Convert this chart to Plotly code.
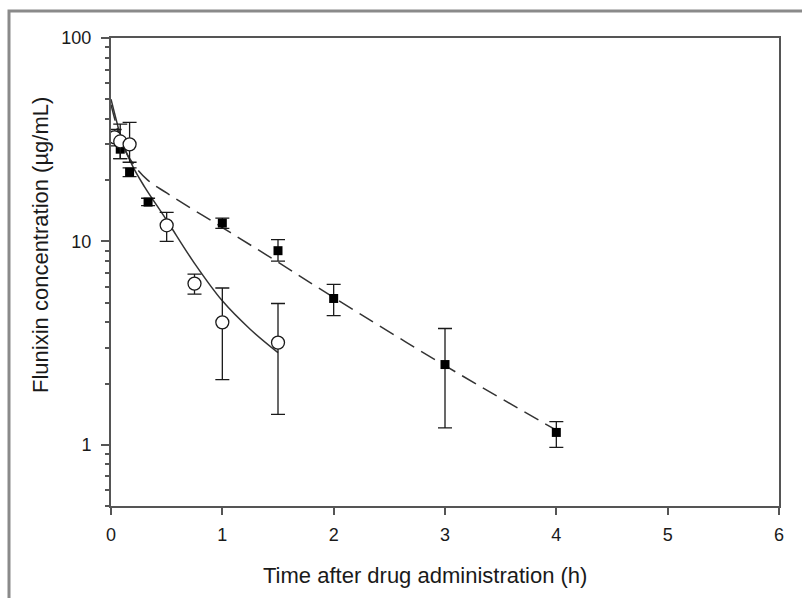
import plotly.graph_objects as go
import math

# ---- data ----
sq_t = [0.083, 0.167, 0.333, 1.0, 1.5, 2.0, 3.0, 4.0]
sq_c = [28.4, 21.9, 15.6, 12.3, 9.0, 5.24, 2.48, 1.15]
sq_hi = [31.0, 23.0, 16.3, 13.0, 10.2, 6.14, 3.73, 1.30]
sq_lo = [25.5, 20.8, 15.0, 11.6, 8.0, 4.32, 1.21, 0.97]

circ_t = [0.033, 0.083, 0.167, 0.5, 0.75, 1.0, 1.5]
circ_c = [32.5, 31.0, 30.0, 12.0, 6.2, 4.0, 3.18]
circ_hi = [35.5, 37.7, 38.5, 13.9, 6.9, 5.9, 4.95]
circ_lo = [29.5, 25.5, 24.5, 10.0, 5.5, 2.09, 1.41]

fit_solid_t = [0, 0.05, 0.1, 0.2, 0.3, 0.5, 0.75, 1.0, 1.25, 1.5]
fit_solid_c = [50, 39, 31, 23.1, 18.6, 12.7, 7.8, 5.1, 3.7, 2.84]

fit_dash_t = [0, 0.05, 0.1, 0.2, 0.33, 0.5, 1.0, 1.5, 2.0, 3.0, 4.0]
fit_dash_c = [47, 37, 30, 24, 20, 17.3, 11.7, 7.9, 5.3, 2.45, 1.18]

x_ticks = [0, 1, 2, 3, 4, 5, 6]
y_ticks = [1, 10, 100]
y_minor = [0.5, 0.6, 0.7, 0.8, 0.9, 2, 3, 4, 5, 6, 7, 8, 9, 20, 30, 40, 50, 60, 70, 80, 90]

FONT = "Liberation Sans, Arial, sans-serif"
INK = "#1a1a1a"
AXIS = "#555555"

fig = go.Figure()

fig.add_trace(go.Scatter(
    x=fit_dash_t, y=fit_dash_c, mode="lines", line_shape="spline",
    line=dict(color="#333333", width=1.5, dash="16px,8px"), hoverinfo="skip"))
fig.add_trace(go.Scatter(
    x=fit_solid_t, y=fit_solid_c, mode="lines", line_shape="spline",
    line=dict(color="#333333", width=1.5), hoverinfo="skip"))

fig.add_trace(go.Scatter(
    x=sq_t, y=sq_c, mode="markers",
    marker=dict(symbol="square", size=9, color="black", line=dict(width=0)),
    error_y=dict(type="data", symmetric=False,
                 array=[h - c for h, c in zip(sq_hi, sq_c)],
                 arrayminus=[c - l for c, l in zip(sq_c, sq_lo)],
                 color=INK, thickness=1.3, width=7)))

fig.add_trace(go.Scatter(
    x=circ_t, y=circ_c, mode="markers",
    marker=dict(symbol="circle", size=13, color="white", line=dict(width=1.3, color=INK)),
    error_y=dict(type="data", symmetric=False,
                 array=[h - c for h, c in zip(circ_hi, circ_c)],
                 arrayminus=[c - l for c, l in zip(circ_c, circ_lo)],
                 color=INK, thickness=1.3, width=7)))

# plot area geometry (pixels)
L, R, T, B = 111, 779, 38, 506
W, H = 802, 598
pw, ph = R - L, B - T

def px(x):
    return (x - L) / pw

def py(y):
    return (B - y) / ph

fig.update_layout(
    width=W, height=H,
    margin=dict(l=L, r=W - R, t=T, b=H - B, pad=0),
    paper_bgcolor="white", plot_bgcolor="white",
    showlegend=False,
    font=dict(family=FONT, size=18, color=INK),
    xaxis=dict(range=[0, 6], tickvals=x_ticks, ticks="outside", ticklen=7,
               tickwidth=1.5, tickcolor=AXIS, showline=True, linecolor=AXIS,
               linewidth=2, mirror=True, showgrid=False, zeroline=False,
               ticklabelstandoff=4, tickfont=dict(size=18, family=FONT)),
    yaxis=dict(type="log", range=[math.log10(0.5), 2], tickvals=y_ticks,
               ticktext=[str(v) for v in y_ticks],
               ticks="outside", ticklen=8, tickwidth=1.5, tickcolor=AXIS,
               showline=True, linecolor=AXIS, linewidth=2, mirror=True,
               showgrid=False, zeroline=False, ticklabelstandoff=6,
               tickfont=dict(size=18, family=FONT),
               minor=dict(tickvals=y_minor, ticks="outside", ticklen=4,
                          tickwidth=1.5, tickcolor=AXIS, showgrid=False)),
    annotations=[
        dict(text="Time after drug administration (h)", xref="paper", yref="paper",
             x=px(425), y=py(575), showarrow=False, xanchor="center", yanchor="middle",
             font=dict(size=22, family=FONT, color=INK)),
        dict(text="Flunixin concentration (µg/mL)", xref="paper", yref="paper",
             x=px(40), y=py(245), showarrow=False, textangle=-90,
             xanchor="center", yanchor="middle",
             font=dict(size=22, family=FONT, color=INK)),
    ],
    shapes=[
        dict(type="rect", xref="paper", yref="paper",
             x0=px(9), y0=py(11), x1=px(812), y1=py(612),
             line=dict(color="#8a8a8a", width=3), fillcolor="rgba(0,0,0,0)",
             layer="below"),
    ],
)

fig.write_html("out.html",
               config={"displayModeBar": False},
               post_script="document.body.style.margin='0px';document.body.style.padding='0px';")
